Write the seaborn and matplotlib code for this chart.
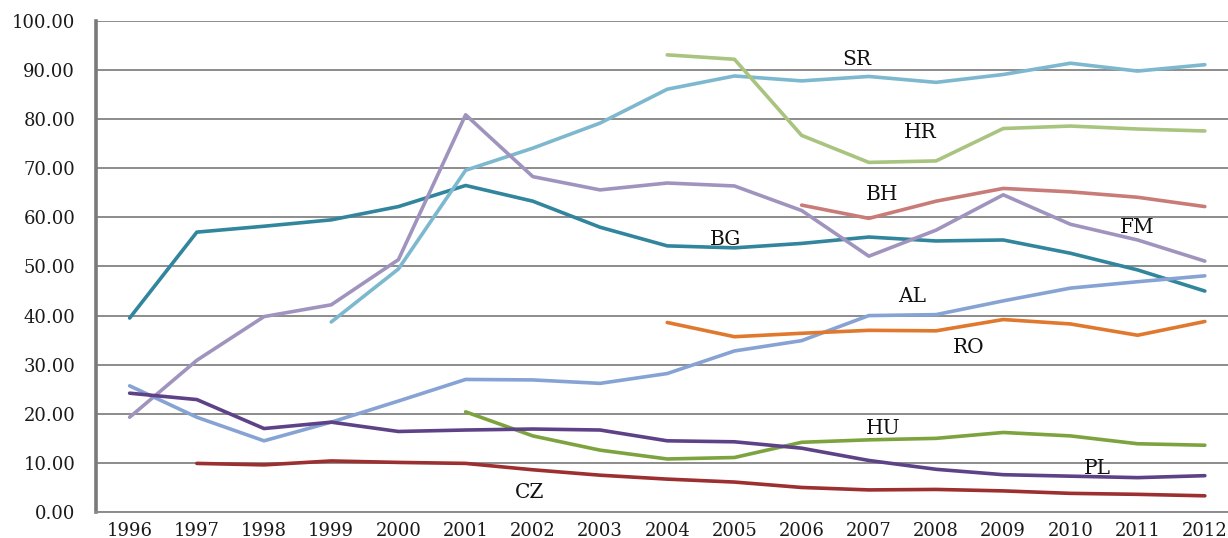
import pandas as pd
import numpy as np
import matplotlib
matplotlib.use("Agg")
import matplotlib.pyplot as plt
import seaborn as sns

# -----------------------------------------------------------
# Datos
# -----------------------------------------------------------
years = list(range(1996, 2013))

BG = [39.5, 57.0, 58.2, 59.5, 62.2, 66.5, 63.3, 58.0, 54.2, 53.8, 54.7, 56.0, 55.2, 55.4, 52.7, 49.3, 45.0]
SR = [None, None, None, 38.7, 49.5, 69.6, 74.1, 79.2, 86.1, 88.8, 87.8, 88.7, 87.5, 89.1, 91.4, 89.8, 91.1]
HR = [None, None, None, None, None, None, None, None, 93.1, 92.2, 76.7, 71.2, 71.5, 78.1, 78.6, 78.0, 77.6]
FM = [19.3, 30.9, 39.8, 42.2, 51.4, 80.9, 68.3, 65.6, 67.0, 66.4, 61.4, 52.1, 57.4, 64.6, 58.6, 55.4, 51.1]
BH = [None, None, None, None, None, None, None, None, None, None, 62.5, 59.8, 63.3, 65.9, 65.2, 64.1, 62.2]
AL = [25.7, 19.3, 14.5, 18.3, 22.6, 27.0, 26.9, 26.2, 28.2, 32.8, 34.9, 40.0, 40.2, 43.0, 45.6, 46.9, 48.1]
RO = [None, None, None, None, None, None, None, None, 38.6, 35.7, 36.4, 37.0, 36.9, 39.2, 38.3, 36.0, 38.8]
HU = [None, None, None, None, None, 20.4, 15.5, 12.6, 10.8, 11.1, 14.2, 14.7, 15.0, 16.2, 15.5, 13.9, 13.6]
PL = [24.2, 22.9, 17.0, 18.3, 16.4, 16.7, 16.9, 16.7, 14.5, 14.3, 13.0, 10.5, 8.7, 7.6, 7.3, 7.0, 7.4]
CZ = [None, 9.9, 9.6, 10.4, 10.1, 9.9, 8.6, 7.5, 6.7, 6.1, 5.0, 4.5, 4.6, 4.3, 3.8, 3.6, 3.3]

series = {"BG": BG, "SR": SR, "HR": HR, "FM": FM, "BH": BH,
          "AL": AL, "RO": RO, "HU": HU, "PL": PL, "CZ": CZ}

colores = {"BG": "#31859C", "SR": "#7DB8CF", "HR": "#A9C47F", "FM": "#A094BE",
           "BH": "#C97B78", "AL": "#86A3D4", "RO": "#E0782E", "HU": "#7DA33F",
           "PL": "#5E4288", "CZ": "#9C2F2F"}

# posición de las etiquetas (año, valor)
etiquetas = {"SR": (2006.82, 92.1), "HR": (2007.76, 77.2), "BH": (2007.2, 64.6),
             "FM": (2011.0, 58.0), "BG": (2004.87, 55.6), "AL": (2007.64, 43.8),
             "RO": (2008.49, 33.6), "HU": (2007.22, 17.1), "PL": (2010.4, 8.8),
             "CZ": (2001.95, 3.9)}

filas = []
for pais, valores in series.items():
    for anio, v in zip(years, valores):
        if v is not None:
            filas.append({"year": anio, "value": v, "country": pais})
df = pd.DataFrame(filas)

# -----------------------------------------------------------
# Gráfico
# -----------------------------------------------------------
sns.set_style("white")
plt.rcParams["font.family"] = ["DejaVu Serif", "Liberation Serif"]

fig = plt.figure(figsize=(12.28, 5.38), dpi=100)
ax = fig.add_axes([0.0782, 0.0483, 0.9303, 0.9127])

sns.lineplot(data=df, x="year", y="value", hue="country", palette=colores,
             linewidth=2.6, legend=False, ax=ax, zorder=3)

ax.set_xlim(1995.5, 2012.5)
ax.set_ylim(0, 100)
ax.set_yticks(np.arange(0, 101, 10))
ax.set_yticklabels([f"{v:.2f}" for v in np.arange(0, 101, 10)],
                   fontsize=13, color="#1a1a1a")
ax.set_xticks(years)
ax.set_xticklabels([str(y) for y in years], fontsize=13, color="#1a1a1a")
ax.set_xticks([y - 0.5 for y in years] + [2012.5], minor=True)
ax.tick_params(axis="x", which="major", length=0, pad=7)
ax.tick_params(axis="x", which="minor", length=6, width=1.2, color="#808080", direction="out")
ax.tick_params(axis="y", length=7, width=1.2, color="#808080", direction="out", pad=8)
ax.set_xlabel("")
ax.set_ylabel("")

ax.grid(axis="y", color="#8c8c8c", linewidth=1.4)
ax.set_axisbelow(True)
for lado in ["top", "right"]:
    ax.spines[lado].set_visible(False)
ax.spines["left"].set_color("#7a7a7a")
ax.spines["left"].set_linewidth(2.6)
ax.spines["bottom"].set_color("#8c8c8c")
ax.spines["bottom"].set_linewidth(1.4)

for pais, (x, y) in etiquetas.items():
    ax.text(x, y, pais, fontsize=14.5, ha="center", va="center", color="#111111", zorder=4)

fig.savefig("out.png", dpi=100)
